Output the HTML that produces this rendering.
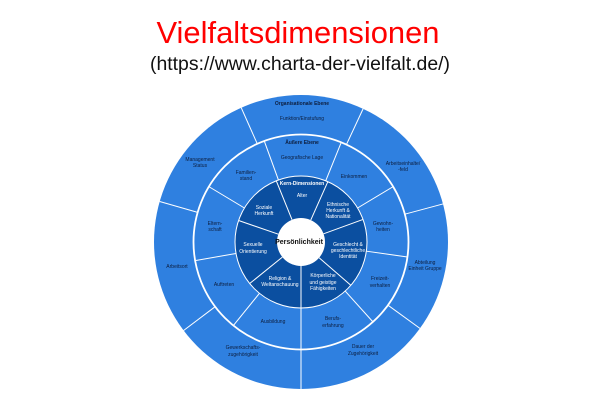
<!DOCTYPE html>
<html><head><meta charset="utf-8"><style>
html,body{margin:0;padding:0;background:#fff;width:600px;height:400px;overflow:hidden}
svg{display:block}
.t{font-family:"Liberation Sans",sans-serif;font-size:5px;fill:#0d1d3d;text-anchor:middle}
.w{fill:#fff}
.b{font-weight:bold}
</style></head><body>
<svg id="s" width="600" height="400" viewBox="0 0 600 400">
<text x="298" y="43" font-family="Liberation Sans,sans-serif" font-size="31" fill="#ff0000" text-anchor="middle" textLength="283" lengthAdjust="spacingAndGlyphs">Vielfaltsdimensionen</text>
<text x="300" y="70" font-family="Liberation Sans,sans-serif" font-size="19" fill="#111" text-anchor="middle" textLength="300" lengthAdjust="spacingAndGlyphs">(https://www.charta-der-vielfalt.de/)</text>
<circle cx="301" cy="242" r="147" fill="#2f80e0"/>
<circle cx="301" cy="242" r="107.5" fill="none" stroke="#fff" stroke-width="1.8"/>
<circle cx="301" cy="242" r="66" fill="#0b4fa0" stroke="#fff" stroke-width="1"/>
<g id="lines" stroke="#fff" stroke-width="1"></g>
<circle cx="301" cy="242" r="24" fill="#fff"/>
<g class="t">
<text x="302" y="105" class="b">Organisationale Ebene</text>
<text x="302" y="120">Funktion/Einstufung</text>
<text x="302" y="144" class="b">Äußere Ebene</text>
<text x="302" y="159">Geografische Lage</text>
<text x="200" y="161">Management</text><text x="200" y="167">Status</text>
<text x="403" y="165">Arbeitseinhalte/</text><text x="403" y="171">-feld</text>
<text x="177" y="268">Arbeitsort</text>
<text x="425" y="264">Abteilung</text><text x="425" y="270">Einheit Gruppe</text>
<text x="243" y="349">Gewerkschafts-</text><text x="243" y="356">zugehörigkeit</text>
<text x="363" y="348">Dauer der</text><text x="363" y="355">Zugehörigkeit</text>
<text x="246" y="174">Familien-</text><text x="246" y="180">stand</text>
<text x="354" y="178">Einkommen</text>
<text x="215" y="225">Eltern-</text><text x="215" y="231">schaft</text>
<text x="383" y="225">Gewohn-</text><text x="383" y="231">heiten</text>
<text x="224" y="286">Auftreten</text>
<text x="380" y="280">Freizeit-</text><text x="380" y="287">verhalten</text>
<text x="273" y="323">Ausbildung</text>
<text x="333" y="320">Berufs-</text><text x="333" y="327">erfahrung</text>
</g>
<g class="t w">
<text x="302" y="185" class="b w">Kern-Dimensionen</text>
<text x="302" y="197" class="w">Alter</text>
<text x="264" y="209" class="w">Soziale</text><text x="264" y="215" class="w">Herkunft</text>
<text x="338" y="206" class="w">Ethnische</text><text x="338" y="212" class="w">Herkunft &amp;</text><text x="338" y="218" class="w">Nationalität</text>
<text x="253" y="246" class="w">Sexuelle</text><text x="253" y="253" class="w">Orientierung</text>
<text x="348" y="246" class="w">Geschlecht &amp;</text><text x="348" y="252" class="w">geschlechtliche</text><text x="348" y="258" class="w">Identität</text>
<text x="280" y="280" class="w">Religion &amp;</text><text x="280" y="286" class="w">Weltanschauung</text>
<text x="323" y="277" class="w">Körperliche</text><text x="323" y="284" class="w">und geistige</text><text x="323" y="290" class="w">Fähigkeiten</text>
</g>
<text x="299" y="244" font-family="Liberation Sans,sans-serif" font-size="7" font-weight="bold" fill="#111" text-anchor="middle">Persönlichkeit</text>
</svg>
<script>
var g=document.getElementById('lines'),cx=301,cy=242;
function L(a,r1,r2){var t=a*Math.PI/180,l=document.createElementNS('http://www.w3.org/2000/svg','line');
l.setAttribute('x1',cx+r1*Math.cos(t));l.setAttribute('y1',cy+r1*Math.sin(t));
l.setAttribute('x2',cx+r2*Math.cos(t));l.setAttribute('y2',cy+r2*Math.sin(t));g.appendChild(l);}
[-114,-65,-15,36,90,143,196].forEach(function(a){L(a,107.5,147)});
[-110,-68,-31,8,48,90,129,170,211].forEach(function(a){L(a,66,107.5)});
[-112,-66,-20,41,90,141,199].forEach(function(a){L(a,24,66)});
</script>
</body></html>
